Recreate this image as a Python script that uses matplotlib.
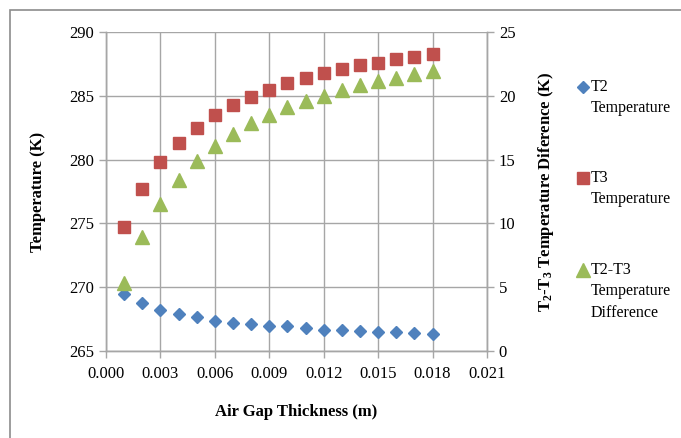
import matplotlib
matplotlib.use("Agg")
import matplotlib.pyplot as plt
from matplotlib.patches import Rectangle
from matplotlib.lines import Line2D

plt.rcParams["font.family"] = ["Liberation Serif", "DejaVu Serif"]
plt.rcParams["mathtext.fontset"] = "custom"
plt.rcParams["mathtext.rm"] = "Liberation Serif:bold"
plt.rcParams["mathtext.it"] = "Liberation Serif:bold"
plt.rcParams["mathtext.bf"] = "Liberation Serif:bold"

# Air gap thickness (m)
gap = [0.001, 0.002, 0.003, 0.004, 0.005, 0.006, 0.007, 0.008, 0.009,
       0.010, 0.011, 0.012, 0.013, 0.014, 0.015, 0.016, 0.017, 0.018]
# Surface temperatures (K)
t2 = [269.43, 268.77, 268.25, 267.91, 267.65, 267.38, 267.23, 267.10, 266.97,
      266.94, 266.78, 266.68, 266.62, 266.55, 266.47, 266.45, 266.39, 266.36]
t3 = [274.75, 277.68, 279.78, 281.30, 282.51, 283.47, 284.26, 284.94, 285.47,
      286.02, 286.38, 286.78, 287.09, 287.38, 287.59, 287.85, 288.03, 288.27]
# Temperature difference (K)
diff = [5.29, 8.91, 11.50, 13.42, 14.86, 16.09, 17.03, 17.85, 18.53,
        19.13, 19.63, 20.02, 20.44, 20.81, 21.15, 21.36, 21.67, 21.91]

x_ticks = [0.000, 0.003, 0.006, 0.009, 0.012, 0.015, 0.018, 0.021]
y_ticks = [265, 270, 275, 280, 285, 290]
y2_ticks = [0, 5, 10, 15, 20, 25]

labels = ["T2\nTemperature", "T3\nTemperature", "T2-T3\nTemperature\nDifference"]
colors = ["#4F81BD", "#C0504D", "#9BBB59"]

W, H = 681, 438
fig = plt.figure(figsize=(W / 100, H / 100), dpi=100)

# chart frame
fig.patches.append(Rectangle((10 / W, -0.05), 1.1, 1 - 10 / H + 0.05,
                             transform=fig.transFigure, fill=False,
                             edgecolor="#8C8C8C", linewidth=1.2))

ax = fig.add_axes([106 / W, 1 - 351 / H, (487 - 106) / W, (351 - 32) / H])
ax2 = ax.twinx()

grid_c = "#A6A6A6"
ax.set_xlim(0, 0.021)
ax.set_ylim(265, 290)
ax2.set_ylim(0, 25)
ax.set_xticks(x_ticks)
ax.set_xticklabels([f"{v:.3f}" for v in x_ticks])
ax.set_yticks(y_ticks)
ax2.set_yticks(y2_ticks)
ax.grid(True, color=grid_c, linewidth=1.0)
ax.set_axisbelow(True)

for a in (ax, ax2):
    for s in a.spines.values():
        s.set_color(grid_c)
        s.set_linewidth(1.0)
    a.spines["top"].set_visible(False)
    a.tick_params(colors=grid_c, labelcolor="black", labelsize=12,
                  length=5, width=1.0, direction="out")

ax.tick_params(axis="x", pad=6)

h1, = ax.plot(gap, t2, linestyle="none", marker="D", markersize=6.3,
              color=colors[0], zorder=3)
h2, = ax.plot(gap, t3, linestyle="none", marker="s", markersize=8.5,
              color=colors[1], zorder=3)
h3, = ax2.plot(gap, diff, linestyle="none", marker="^", markersize=9.5,
               color=colors[2], zorder=3)

ax.set_xlabel("Air Gap Thickness (m)", fontsize=12, fontweight="bold", labelpad=16)
ax.set_ylabel("Temperature (K)", fontsize=12, fontweight="bold", labelpad=17)
ax2.set_ylabel("T$_2$-T$_3$ Temperature Diference (K)", fontsize=12,
               fontweight="bold", labelpad=15)

# legend entries, marker beside the first line of each label
leg_y = [87, 178, 270]
for lab, c, m, ms, yy in zip(labels, colors, ["D", "s", "^"], [6.3, 8.5, 9.5], leg_y):
    fig.add_artist(Line2D([583 / W], [1 - yy / H], marker=m, markersize=ms,
                          color=c, linestyle="none", transform=fig.transFigure))
    fig.text(591 / W, 1 - (yy - 8) / H, lab, fontsize=11.5, va="top", ha="left",
             linespacing=1.45)

fig.savefig("out.png", dpi=100)
